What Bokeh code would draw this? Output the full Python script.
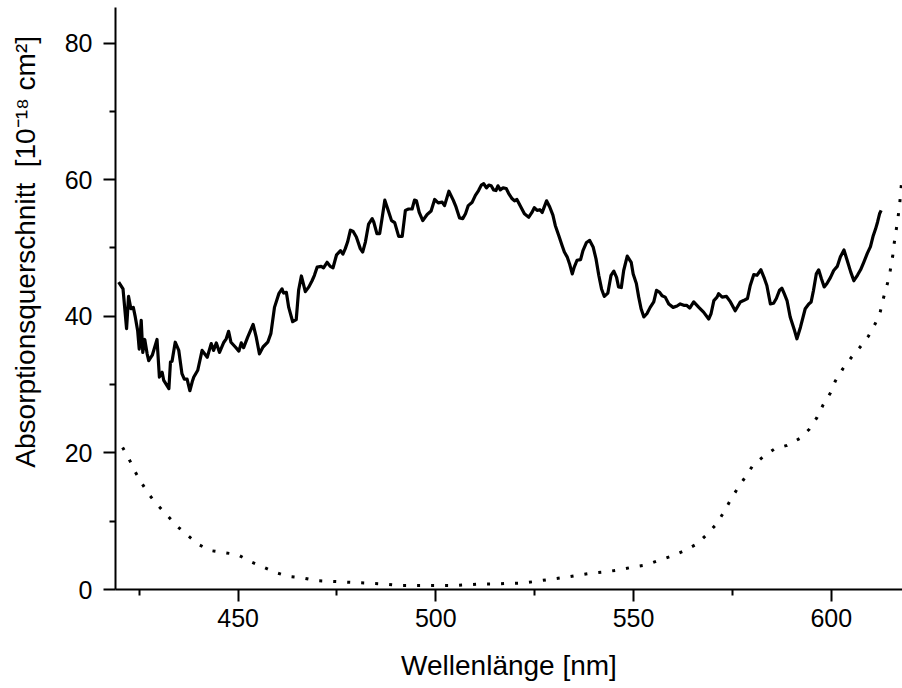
from bokeh.plotting import figure
from bokeh.models import FixedTicker, Range1d
from bokeh.embed import file_html
from bokeh.resources import INLINE

# Solid curve: absorption cross section (10^-18 cm^2) vs wavelength (nm)
solid_wl = [419.8, 420.9, 421.8, 422.3, 422.9, 423.5, 424.0, 424.6, 425.0, 425.5, 425.9, 426.4, 427.0, 427.4,
            428.3, 429.5, 430.1, 430.8, 431.2, 432.5, 432.9, 433.3, 434.1, 435.0, 435.8, 436.4, 437.1, 437.8,
            438.4, 438.8, 439.8, 440.9, 442.2, 443.2, 443.8, 444.5, 445.3, 446.4, 447.0, 447.6, 448.2, 449.3,
            450.2, 450.8, 451.4, 452.4, 453.8, 454.6, 455.4, 456.3, 457.5, 458.3, 459.2, 460.3, 461.1, 461.5,
            462.2, 462.8, 463.8, 464.7, 465.3, 466.0, 467.0, 467.9, 468.7, 469.3, 470.0, 471.0, 471.6, 472.5,
            473.3, 474.0, 474.9, 475.9, 476.5, 477.1, 477.7, 478.4, 479.1, 479.9, 480.9, 481.5, 482.2, 483.0,
            483.9, 484.3, 485.1, 485.8, 486.4, 487.1, 487.9, 488.8, 489.6, 490.6, 491.5, 492.3, 493.1, 494.0,
            494.6, 495.1, 495.8, 496.7, 497.8, 498.8, 499.7, 500.6, 501.6, 502.2, 503.3, 504.4, 505.1, 506.0,
            506.8, 507.5, 508.2, 509.2, 510.0, 510.8, 511.5, 512.1, 512.8, 513.4, 514.0, 514.6, 515.2, 515.7,
            516.3, 517.0, 517.8, 518.4, 519.3, 519.9, 520.5, 521.5, 522.4, 523.5, 524.3, 524.9, 525.6, 526.3,
            526.9, 528.0, 528.8, 529.6, 530.2, 531.1, 531.9, 532.5, 533.2, 533.8, 534.5, 535.0, 535.7, 536.6,
            537.2, 538.1, 538.9, 539.8, 540.5, 541.2, 541.9, 542.6, 543.5, 544.3, 545.0, 545.7, 546.2, 546.9,
            547.5, 548.4, 549.4, 549.9, 550.7, 551.3, 551.9, 552.6, 553.4, 554.2, 555.1, 555.8, 556.6, 557.2,
            558.0, 558.9, 560.0, 561.0, 561.8, 562.7, 563.4, 564.2, 565.2, 566.5, 567.7, 569.0, 569.6, 570.3,
            571.1, 571.5, 572.4, 573.5, 574.5, 575.7, 577.0, 577.8, 578.8, 579.5, 580.4, 581.2, 582.2, 583.1,
            583.7, 584.6, 585.4, 586.1, 586.9, 587.5, 588.1, 588.8, 589.6, 590.7, 591.3, 592.2, 593.4, 594.3,
            594.9, 595.5, 596.2, 596.8, 597.5, 598.2, 598.9, 599.8, 600.6, 601.5, 602.3, 603.2, 604.0, 604.9,
            605.7, 606.6, 607.4, 608.2, 609.1, 609.9, 610.6, 611.2, 611.7, 612.2, 612.6]
solid_val = [45.0, 44.0, 38.2, 42.9, 41.1, 41.3, 39.9, 37.9, 35.2, 39.4, 34.7, 36.6, 34.5, 33.5,
             34.3, 36.6, 31.1, 31.8, 30.6, 29.4, 33.3, 33.4, 36.2, 35.0, 31.6, 30.8, 30.8, 29.1,
             30.4, 31.1, 32.1, 35.0, 34.0, 36.0, 35.0, 36.1, 34.7, 36.2, 36.7, 37.8, 36.2, 35.5,
             34.9, 36.1, 35.4, 36.9, 38.8, 36.9, 34.5, 35.5, 36.2, 37.5, 41.3, 43.3, 44.0, 43.4,
             43.5, 41.3, 39.2, 39.5, 43.8, 45.9, 43.6, 44.3, 45.2, 46.0, 47.2, 47.3, 47.1, 47.9,
             47.3, 47.1, 49.0, 49.6, 49.1, 49.9, 50.9, 52.6, 52.4, 51.6, 49.9, 49.4, 50.9, 53.5,
             54.3, 53.8, 52.1, 52.1, 54.3, 57.0, 55.6, 54.0, 53.7, 51.7, 51.7, 55.5, 55.7, 55.7,
             57.0, 56.9, 55.2, 54.0, 54.9, 55.4, 57.1, 56.6, 56.7, 56.2, 58.3, 57.0, 56.0, 54.4,
             54.3, 55.0, 56.2, 56.7, 57.7, 58.4, 59.2, 59.4, 58.8, 59.2, 59.1, 58.5, 58.4, 59.1,
             58.5, 58.8, 58.7, 58.0, 57.2, 56.9, 57.1, 56.0, 55.0, 54.5, 55.2, 55.9, 55.5, 55.6,
             55.2, 56.9, 56.0, 54.8, 53.3, 51.8, 50.4, 49.4, 48.7, 47.7, 46.2, 47.2, 48.2, 48.3,
             49.6, 50.8, 51.1, 50.1, 48.4, 46.0, 44.0, 42.9, 43.4, 46.0, 46.6, 45.7, 44.3, 44.2,
             46.7, 48.8, 47.9, 46.2, 44.8, 42.8, 41.1, 39.9, 40.4, 41.3, 42.1, 43.8, 43.5, 43.0,
             42.8, 41.8, 41.3, 41.5, 41.8, 41.6, 41.6, 41.2, 42.1, 41.3, 40.6, 39.6, 40.4, 42.3,
             42.8, 43.3, 42.8, 42.9, 42.1, 40.8, 42.1, 42.3, 42.6, 44.5, 46.1, 46.0, 46.8, 45.5,
             44.5, 41.8, 41.9, 42.6, 43.8, 44.1, 43.3, 42.3, 39.9, 37.9, 36.7, 38.4, 41.1, 41.8,
             42.1, 43.8, 46.2, 46.8, 45.5, 44.3, 44.8, 45.7, 46.7, 47.3, 48.7, 49.7, 48.2, 46.5,
             45.2, 46.0, 46.8, 47.9, 49.2, 50.2, 51.8, 52.8, 53.8, 55.0, 55.5]

# Dotted curve
dot_wl = [420.8, 422.5, 424.0, 425.7, 427.6, 429.9, 432.3, 434.7, 437.3, 440.0, 443.0, 446.5, 449.9,
          453.1, 456.3, 459.4, 462.8, 466.3, 469.8, 473.2, 476.7, 480.1, 483.7, 487.1, 490.6, 494.1,
          497.6, 501.2, 504.5, 508.2, 511.7, 515.1, 518.4, 522.1, 525.4, 529.0, 532.3, 536.0, 539.3,
          542.9, 546.2, 549.9, 553.2, 556.5, 559.7, 562.9, 566.1, 568.6, 571.0, 572.8, 574.5, 576.3,
          578.3, 580.2, 582.7, 585.7, 588.8, 592.0, 594.5, 596.4, 597.9, 599.8, 601.0, 602.9, 605.1,
          607.3, 609.4, 611.1, 612.4, 613.2, 614.2, 614.9, 615.5, 615.9, 616.4, 616.9, 617.3, 617.6,
          617.9]
dot_val = [20.8, 19.0, 17.2, 15.5, 13.8, 12.2, 10.7, 9.2, 7.9, 6.6, 5.7, 5.4, 5.1,
           4.1, 3.3, 2.5, 1.9, 1.7, 1.3, 1.2, 1.1, 1.0, 0.9, 0.8, 0.6, 0.6,
           0.6, 0.6, 0.6, 0.7, 0.8, 0.8, 0.9, 0.95, 1.2, 1.5, 1.75, 2.1, 2.4,
           2.6, 2.85, 3.3, 3.6, 4.3, 4.9, 5.7, 6.7, 8.1, 9.6, 11.3, 13.1, 14.8,
           16.5, 18.2, 19.4, 20.6, 21.1, 22.1, 23.5, 25.2, 27.0, 28.8, 30.5, 32.3, 34.0,
           35.5, 37.1, 38.9, 40.7, 42.7, 44.8, 46.7, 48.7, 50.7, 52.6, 54.6, 56.5, 58.5,
           60.5]

x_major = [450, 500, 550, 600]
x_minor = [425, 475, 525, 575]
y_major = [0, 20, 40, 60, 80]
y_minor = [10, 30, 50, 70]

NBSP = "\u00a0"
x_title = "Wellenlänge [nm]"
# leading non-breaking spaces shift the (frame-centred) title upward like the reference
y_title = NBSP * 12 + "Absorptionsquerschnitt" + NBSP * 2 + "[10⁻¹⁸ cm²]"

FONT = "Liberation Sans"

p = figure(width=902, height=688, x_range=Range1d(419.0, 618.0), y_range=Range1d(0, 85.2),
           output_backend="svg", toolbar_location=None,
           min_border_left=115, min_border_right=0, min_border_top=7, min_border_bottom=99)
p.outline_line_color = None
p.xgrid.visible = False
p.ygrid.visible = False
p.background_fill_color = "white"
p.border_fill_color = "white"

p.line(solid_wl, solid_val, line_color="black", line_width=3.2, line_join="round")
p.line(dot_wl, dot_val, line_color="black", line_width=3, line_dash="3 11")

p.xaxis.ticker = FixedTicker(ticks=x_major, minor_ticks=x_minor)
p.yaxis.ticker = FixedTicker(ticks=y_major, minor_ticks=y_minor)
p.xaxis.axis_label = x_title
p.yaxis.axis_label = y_title

for ax in (p.xaxis[0], p.yaxis[0]):
    ax.axis_line_width = 2
    ax.axis_line_color = "black"
    ax.major_tick_line_width = 2
    ax.minor_tick_line_width = 2
    ax.major_tick_line_color = "black"
    ax.minor_tick_line_color = "black"
    ax.major_tick_out = 12
    ax.major_tick_in = 0
    ax.minor_tick_out = 6
    ax.minor_tick_in = 0
    ax.major_label_text_font = FONT
    ax.major_label_text_font_size = "25px"
    ax.major_label_text_color = "black"
    ax.major_label_standoff = 11
    ax.axis_label_text_font = FONT
    ax.axis_label_text_font_size = "28px"
    ax.axis_label_text_font_style = "normal"
    ax.axis_label_text_color = "black"

p.xaxis[0].major_label_standoff = 7
p.xaxis[0].axis_label_standoff = 20
p.yaxis[0].axis_label_standoff = 21

open("out.html", "w").write(file_html(p, INLINE))
